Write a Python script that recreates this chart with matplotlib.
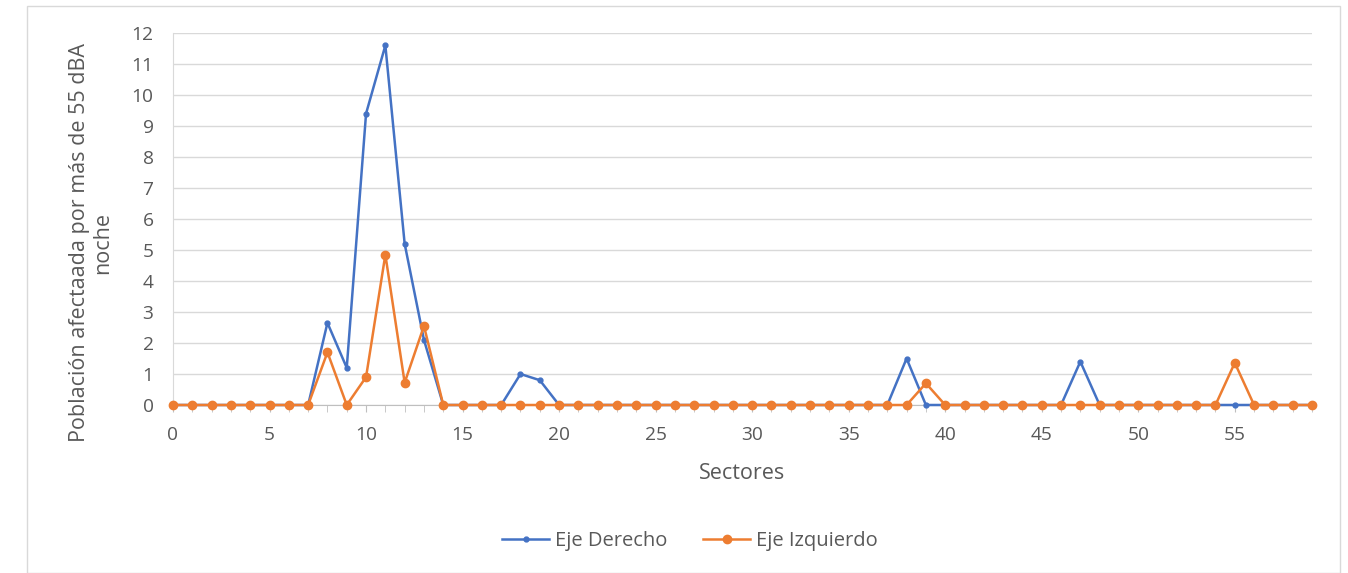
import matplotlib
matplotlib.use("Agg")
import matplotlib.pyplot as plt
from matplotlib.patches import Rectangle
from matplotlib.ticker import MultipleLocator

sectores = list(range(60))

eje_derecho = [0] * 60
for k, v in {8: 2.65, 9: 1.2, 10: 9.4, 11: 11.6, 12: 5.2, 13: 2.1,
             18: 1.0, 19: 0.8, 38: 1.5, 47: 1.4}.items():
    eje_derecho[k] = v

eje_izquierdo = [0] * 60
for k, v in {8: 1.7, 10: 0.9, 11: 4.85, 12: 0.72, 13: 2.55,
             39: 0.7, 55: 1.36}.items():
    eje_izquierdo[k] = v

plt.rcParams['font.family'] = ['Open Sans', 'DejaVu Sans']
txt = '#595959'

fig = plt.figure(figsize=(13.48, 5.73), dpi=100)
fig.patches.append(Rectangle((27 / 1348, 0.0), 1313 / 1348, 1 - 6 / 573,
                             transform=fig.transFigure, fill=False,
                             edgecolor='#D9D9D9', linewidth=1.0))

ax = fig.add_axes([173 / 1348, 1 - 405 / 573, (1312 - 173) / 1348, (405 - 33) / 573])

ax.plot(sectores, eje_derecho, color='#4472C4', linewidth=1.8, marker='o',
        markersize=3.5, label='Eje Derecho', clip_on=False, zorder=3)
ax.plot(sectores, eje_izquierdo, color='#ED7D31', linewidth=1.8, marker='o',
        markersize=6, label='Eje Izquierdo', clip_on=False, zorder=4)

ax.set_xlim(0, 59)
ax.set_ylim(0, 12)
ax.xaxis.set_major_locator(MultipleLocator(5))
ax.xaxis.set_minor_locator(MultipleLocator(1))
ax.yaxis.set_major_locator(MultipleLocator(1))
ax.grid(axis='y', color='#D9D9D9', linewidth=1.0)
ax.set_axisbelow(True)

for s in ['top', 'right']:
    ax.spines[s].set_visible(False)
ax.spines['left'].set_color('#D9D9D9')
ax.spines['bottom'].set_color('#BFBFBF')

ax.tick_params(axis='x', which='both', colors='#BFBFBF', labelcolor=txt,
               labelsize=13.8, direction='out', length=5, pad=10)
ax.tick_params(axis='y', length=0, labelcolor=txt, labelsize=13.8, pad=14)

ax.set_xlabel('Sectores', color=txt, fontsize=15.5, labelpad=14)

# two-line axis title, centred a little below the middle of the plot area
fig.text(91 / 1348, 1 - 243 / 573,
         'Población afectaada por más de 55 dBA\nnoche',
         rotation=90, ha='center', va='center', multialignment='center',
         color=txt, fontsize=15.5, linespacing=1.15)

# legend centred on the whole chart area, below the axis title
fig.legend(*ax.get_legend_handles_labels(), loc='center',
           bbox_to_anchor=(690 / 1348, 1 - 541 / 573), ncol=2,
           frameon=False, fontsize=14.5, labelcolor=txt, handlelength=2.3,
           handletextpad=0.3, columnspacing=1.8)

fig.savefig('out.png', dpi=100)
